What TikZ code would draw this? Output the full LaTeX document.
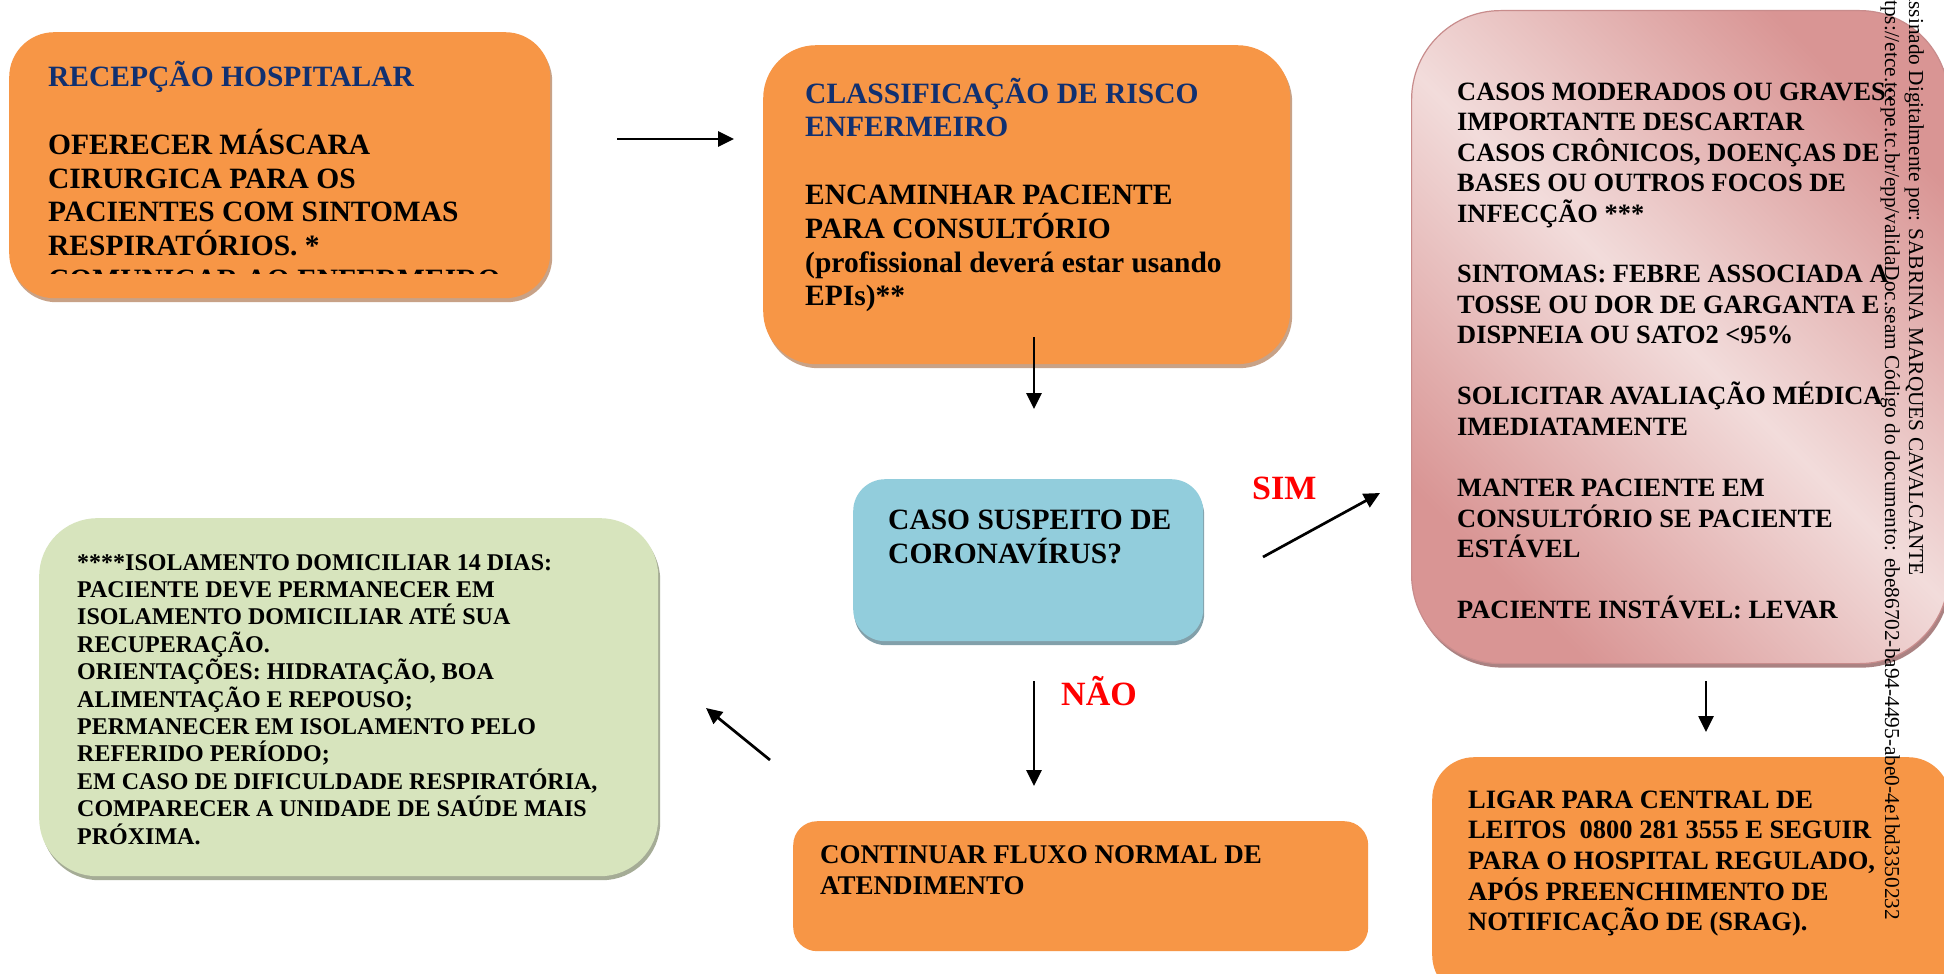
\documentclass[tikz,border=0pt]{standalone}
\usepackage{fontspec}
\setmainfont{Liberation Serif}
\usetikzlibrary{arrows.meta,shadows}
\definecolor{orangeF}{HTML}{F79646}
\definecolor{blueF}{HTML}{92CDDC}
\definecolor{greenF}{HTML}{D7E4BD}
\definecolor{pinkL}{HTML}{F2DCDB}
\definecolor{pinkD}{HTML}{D99594}
\definecolor{pinkEdge}{RGB}{200,140,140}
\definecolor{navyT}{RGB}{17,48,112}
\definecolor{shOrange}{RGB}{200,162,135}
\definecolor{shBlue}{RGB}{130,160,170}
\definecolor{shGreen}{RGB}{165,172,150}
\definecolor{shPink}{RGB}{170,130,130}
\definecolor{redL}{RGB}{255,0,0}
\newcommand\mlines[1]{\vtop{\lineskiplimit=-\maxdimen\halign{##\hfil\cr#1\crcr}}}
\begin{document}
\begin{tikzpicture}[x=1pt,y=-1pt,
  panel/.style={rectangle, inner sep=0pt, draw=none, anchor=north west},
  oshadow/.style={drop shadow={shadow xshift=2pt, shadow yshift=-4pt, fill=shOrange, opacity=1}},
  txt/.style={inner sep=0pt, anchor=base west, font=\bfseries},
  arr/.style={-{Triangle[length=16pt,width=15pt]}, line width=2.7pt, black},
  redlbl/.style={inner sep=0pt, anchor=base west, text=redL, font=\fontsize{34}{40}\selectfont\bfseries},
  wm/.style={inner sep=0pt, anchor=base west, rotate=-90, font=\fontsize{21.3}{24}\selectfont}
]
\fill[white] (0,0) rectangle (1944,974);
\useasboundingbox (0,0) rectangle (1944,974);

% Box 1
\node[panel, oshadow, fill=orangeF, rounded corners=45pt, minimum width=541pt, minimum height=266pt] (recep) at (9,32) {};
\node[txt, font=\fontsize{29.5}{33.7}\selectfont\bfseries] (recepT) at (48,87) {\mlines{%
\color{navyT}RECEPÇÃO HOSPITALAR\cr
\cr
OFERECER MÁSCARA\cr
CIRURGICA PARA OS\cr
PACIENTES COM SINTOMAS\cr
RESPIRATÓRIOS. *}};
\begin{scope}
\clip (9,200) rectangle (550,273);
\node[txt, font=\fontsize{29.5}{33.7}\selectfont\bfseries] (recepC) at (48,289) {COMUNICAR AO ENFERMEIRO};
\end{scope}

% Box 2
\node[panel, oshadow, fill=orangeF, rounded corners=53pt, minimum width=527pt, minimum height=319pt] (classif) at (763,45) {};
\node[txt, font=\fontsize{29.5}{33.8}\selectfont\bfseries] (classifT) at (805,103) {\mlines{%
\color{navyT}CLASSIFICAÇÃO DE RISCO\cr
\color{navyT}ENFERMEIRO\cr
\cr
ENCAMINHAR PACIENTE\cr
PARA CONSULTÓRIO\cr
(profissional deverá estar usando\cr
EPIs)**}};

% Pink box
\node[panel, drop shadow={shadow xshift=2pt, shadow yshift=-4pt, fill=shPink, opacity=1},
  draw=pinkEdge, line width=1.2pt, left color=pinkD, right color=pinkD, middle color=pinkL, shading angle=-45,
  rounded corners=89pt, minimum width=537pt, minimum height=653pt] (grave) at (1411,10) {};
\node[txt, font=\fontsize{26.4}{30.5}\selectfont\bfseries] (graveT) at (1457,100) {\mlines{%
CASOS MODERADOS OU GRAVES:\cr
IMPORTANTE DESCARTAR\cr
CASOS CRÔNICOS, DOENÇAS DE\cr
BASES OU OUTROS FOCOS DE\cr
INFECÇÃO ***\cr
\cr
SINTOMAS: FEBRE ASSOCIADA A\cr
TOSSE OU DOR DE GARGANTA E\cr
DISPNEIA OU SATO2 <95\%\cr
\cr
SOLICITAR AVALIAÇÃO MÉDICA\cr
IMEDIATAMENTE\cr
\cr
MANTER PACIENTE EM\cr
CONSULTÓRIO SE PACIENTE\cr
ESTÁVEL\cr
\cr
PACIENTE INSTÁVEL: LEVAR}};

% Blue box
\node[panel, drop shadow={shadow xshift=1pt, shadow yshift=-4pt, fill=shBlue, opacity=1}, fill=blueF, rounded corners=32pt, minimum width=350pt, minimum height=162pt] (caso) at (853,479) {};
\node[txt, font=\fontsize{29.5}{34}\selectfont\bfseries] (casoT) at (888,529) {\mlines{%
CASO SUSPEITO DE\cr
CORONAVÍRUS?}};

% Green box
\node[panel, drop shadow={shadow xshift=2pt, shadow yshift=-4pt, fill=shGreen, opacity=1}, fill=greenF, rounded corners=58pt, minimum width=619pt, minimum height=358pt] (isol) at (39,518) {};
\node[txt, font=\fontsize{24}{27.4}\selectfont\bfseries] (isolT) at (77,570) {\mlines{%
****ISOLAMENTO DOMICILIAR 14 DIAS:\cr
PACIENTE DEVE PERMANECER EM\cr
ISOLAMENTO DOMICILIAR ATÉ SUA\cr
RECUPERAÇÃO.\cr
ORIENTAÇÕES: HIDRATAÇÃO, BOA\cr
ALIMENTAÇÃO E REPOUSO;\cr
PERMANECER EM ISOLAMENTO PELO\cr
REFERIDO PERÍODO;\cr
EM CASO DE DIFICULDADE RESPIRATÓRIA,\cr
COMPARECER A UNIDADE DE SAÚDE MAIS\cr
PRÓXIMA.}};

% Continuar box
\node[panel, fill=orangeF, rounded corners=24pt, minimum width=575pt, minimum height=130pt] (cont) at (793,821) {};
\node[txt, font=\fontsize{27}{31}\selectfont\bfseries] (contT) at (820,863) {\mlines{%
CONTINUAR FLUXO NORMAL DE\cr
ATENDIMENTO}};

% Ligar box
\node[panel, fill=orangeF, rounded corners=42pt, minimum width=518pt, minimum height=240pt] (ligar) at (1432,757) {};
\node[txt, font=\fontsize{26.5}{30.7}\selectfont\bfseries] (ligarT) at (1468,808) {\mlines{%
LIGAR PARA CENTRAL DE\cr
LEITOS\ \ 0800 281 3555 E SEGUIR\cr
PARA O HOSPITAL REGULADO,\cr
APÓS PREENCHIMENTO DE\cr
NOTIFICAÇÃO DE (SRAG).}};

% Labels
\node[redlbl] (sim) at (1252,499) {SIM};
\node[redlbl] (nao) at (1061,705) {NÃO};

% Arrow coordinates
\coordinate (a1s) at (617,139); \coordinate (a1e) at (734,139);
\coordinate (a2s) at (1034,337); \coordinate (a2e) at (1034,409);
\coordinate (a3s) at (1263,557); \coordinate (a3e) at (1380,493);
\coordinate (a4s) at (1034,681); \coordinate (a4e) at (1034,786);
\coordinate (a5s) at (770,760); \coordinate (a5e) at (706,708);
\coordinate (a6s) at (1706,681); \coordinate (a6e) at (1706,732);
\draw[arr] (a1s) -- (a1e);
\draw[arr] (a2s) -- (a2e);
\draw[arr] (a3s) -- (a3e);
\draw[arr] (a4s) -- (a4e);
\draw[arr] (a5s) -- (a5e);
\draw[arr] (a6s) -- (a6e);

% Watermark
\node[wm] (wm1) at (1909,-14) {Assinado Digitalmente por: SABRINA MARQUES CAVALCANTE};
\node[wm] (wm2) at (1885,-16.5) {https://etce.tcepe.tc.br/epp/validaDoc.seam Código do documento: ebe86702-ba94-4495-abe0-4e1bd3350232};
\end{tikzpicture}
\end{document}
